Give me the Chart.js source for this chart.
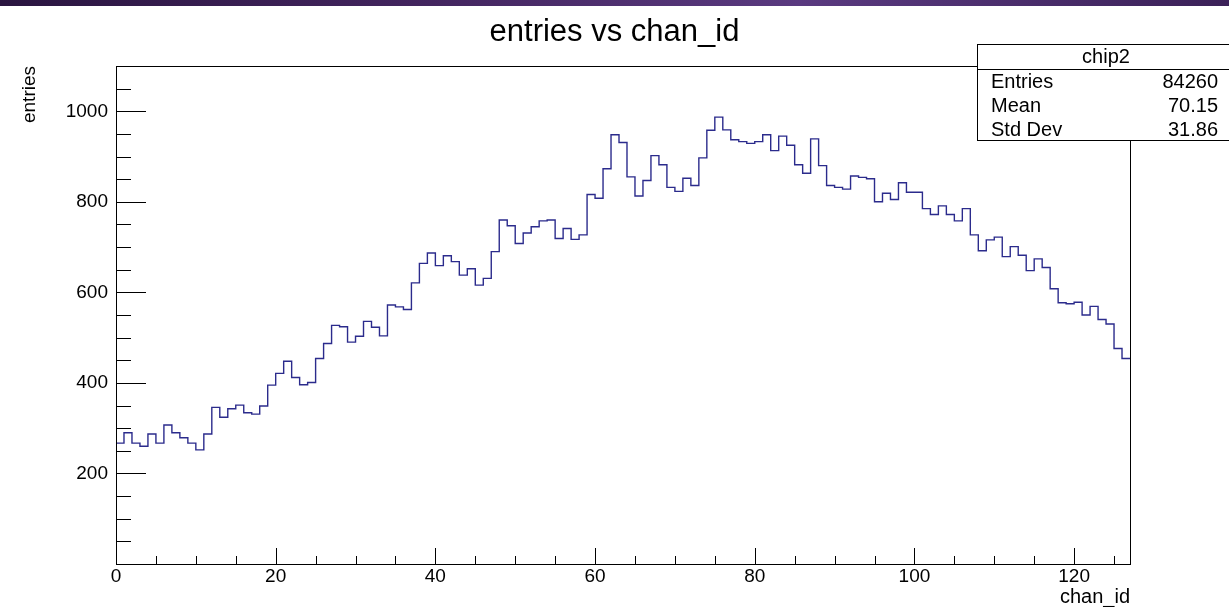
<!DOCTYPE html>
<html><head><meta charset="utf-8">
<script src="https://cdn.jsdelivr.net/npm/chart.js@4/dist/chart.umd.min.js"></script>
<style>
html,body{margin:0;padding:0;background:#fff;overflow:hidden}
#wrap{position:relative;width:1229px;height:607px}
#band{position:absolute;left:0;top:0;width:1229px;height:6px;background:linear-gradient(90deg,#2a1540 0%,#43255f 35%,#5a3a80 65%,#3b2158 100%);z-index:2}
canvas{display:block}
</style></head><body>
<div id="wrap"><div id="band"></div><canvas id="c" width="1229" height="607"></canvas></div>
<script>
// channel ids (bin lower edges)
const chanIds = [0,1,2,3,4,5,6,7,8,9,10,11,12,13,14,15,16,17,18,19,20,21,22,23,24,25,26,27,28,29,30,31,32,33,34,35,36,37,38,39,40,41,42,43,44,45,46,47,48,49,50,51,52,53,54,55,56,57,58,59,60,61,62,63,64,65,66,67,68,69,70,71,72,73,74,75,76,77,78,79,80,81,82,83,84,85,86,87,88,89,90,91,92,93,94,95,96,97,98,99,100,101,102,103,104,105,106,107,108,109,110,111,112,113,114,115,116,117,118,119,120,121,122,123,124,125,126];
// entries per channel
const entries = [267,290,267,260,287,267,307,290,279,267,252,287,346,324,343,351,334,331,349,395,
421,448,412,396,401,454,487,527,524,490,503,536,523,504,572,568,562,621,664,687,
659,681,668,638,652,616,631,690,760,747,708,731,745,758,760,719,741,717,727,816,
808,873,948,931,855,813,847,902,882,832,823,852,836,897,958,987,959,937,933,929,
933,948,913,945,925,882,863,939,880,836,832,828,857,854,851,800,819,805,842,821,
821,785,772,791,772,758,785,727,692,716,722,679,701,682,648,674,655,608,577,575,
578,550,569,540,530,476,454];
const xTickLabels = [0,20,40,60,80,100,120];
const yTickLabels = [200,400,600,800,1000];
const chartTitle = 'entries vs chan_id';
const statsTitle = 'chip2';
const statsNames = ['Entries','Mean','Std Dev'];
const statsValues = ['84260','70.15','31.86'];

const FONT = "'Liberation Sans', Arial, sans-serif";
const xMax = chanIds[chanIds.length-1] + 1;

const points = chanIds.map((c,i)=>({x:c, y:entries[i]}));
points.push({x:xMax, y:entries[entries.length-1]});

const rootAxes = {
  id:'rootAxes',
  afterDatasetsDraw(chart){
    const {ctx, chartArea:a, scales:{x,y}} = chart;
    ctx.save();
    ctx.strokeStyle = '#000';
    ctx.lineWidth = 1;
    ctx.strokeRect(Math.round(a.left)+0.5, Math.round(a.top)+0.5, Math.round(a.right-a.left), Math.round(a.bottom-a.top));
    ctx.beginPath();
    for (let v=0; v<=xMax; v+=5){
      const px = Math.round(x.getPixelForValue(v))+0.5;
      const len = (v%20===0)?16:8;
      ctx.moveTo(px, a.bottom); ctx.lineTo(px, a.bottom-len);
    }
    for (let v=50; v<=y.max; v+=50){
      const py = Math.round(y.getPixelForValue(v))+0.5;
      const len = (v%200===0)?30:15;
      ctx.moveTo(a.left, py); ctx.lineTo(a.left+len, py);
    }
    ctx.stroke();
    ctx.restore();
  },
  afterDraw(chart){
    const ctx = chart.ctx;
    ctx.save();
    ctx.fillStyle='#000';
    ctx.font = '31px '+FONT;
    ctx.textAlign='center';
    ctx.textBaseline='alphabetic';
    ctx.fillText(chartTitle, 614.5, 41);
    const L=977.5, T=44.5, R=1240, B=140.5, S=69.5;
    ctx.fillStyle='#fff';
    ctx.fillRect(L,T,R-L,B-T);
    ctx.strokeStyle='#000'; ctx.lineWidth=1;
    ctx.strokeRect(L,T,R-L,B-T);
    ctx.beginPath(); ctx.moveTo(L,S); ctx.lineTo(R,S); ctx.stroke();
    ctx.fillStyle='#000';
    ctx.font = '20px '+FONT;
    ctx.textAlign='center';
    ctx.fillText(statsTitle, 1106, 63);
    const bases=[88,112,136];
    statsNames.forEach((n,i)=>{
      ctx.textAlign='left'; ctx.fillText(n, 991, bases[i]);
      ctx.textAlign='right'; ctx.fillText(statsValues[i], 1218, bases[i]);
    });
    ctx.restore();
  }
};

new Chart(document.getElementById('c'), {
  type:'line',
  data:{datasets:[{data:points, stepped:true, borderColor:'#2b2b8c', borderWidth:1.4, pointRadius:0, fill:false, tension:0}]},
  options:{
    responsive:false, animation:false, devicePixelRatio:1,
    layout:{padding:{left:0,right:99,top:66,bottom:0}},
    plugins:{ legend:{display:false}, tooltip:{enabled:false}, title:{display:false} },
    scales:{
      x:{type:'linear', min:0, max:xMax,
        grid:{display:false, drawTicks:false}, border:{display:false},
        ticks:{stepSize:5, autoSkip:false, maxRotation:0, color:'#000', padding:1, font:{family:FONT,size:19},
          callback:(v)=> xTickLabels.includes(v) ? String(v) : ''},
        title:{display:true, text:'chan_id', align:'end', color:'#000', font:{family:FONT,size:20,lineHeight:1}, padding:{top:0,bottom:0}},
        afterFit:(s)=>{s.height=43;}
      },
      y:{type:'linear', min:0, max:1100,
        grid:{display:false, drawTicks:false}, border:{display:false},
        ticks:{stepSize:50, autoSkip:false, color:'#000', padding:8, font:{family:FONT,size:19},
          callback:(v)=> yTickLabels.includes(v) ? String(v) : ''},
        title:{display:true, text:'entries', align:'end', color:'#000', font:{family:FONT,size:19,lineHeight:1.2}, padding:{top:18,bottom:0}},
        afterFit:(s)=>{s.width=116;}
      }
    }
  },
  plugins:[rootAxes]
});
</script>
</body></html>
